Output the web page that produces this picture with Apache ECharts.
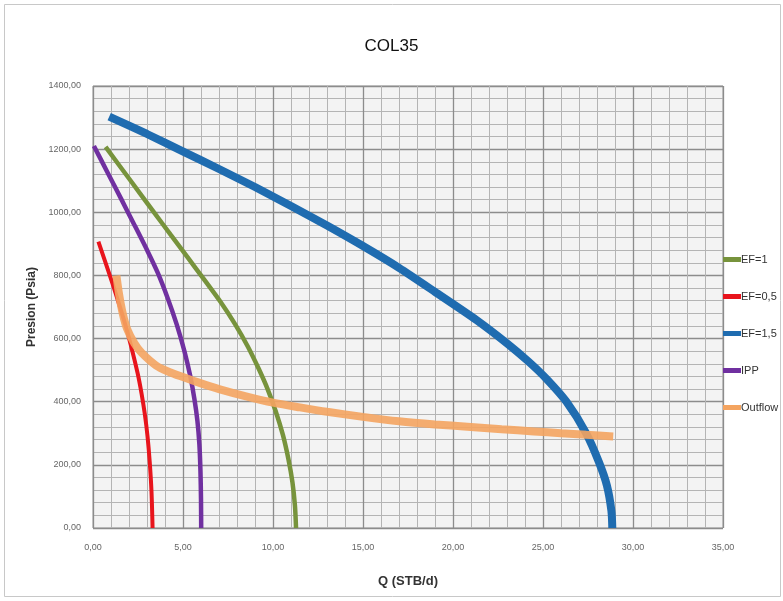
<!DOCTYPE html>
<html>
<head>
<meta charset="utf-8">
<script src="https://cdn.jsdelivr.net/npm/echarts@6/dist/echarts.min.js"></script>
<style>
  html, body { margin: 0; padding: 0; background: #fff; }
  #chart { width: 783px; height: 601px; }
</style>
</head>
<body>
<div id="chart"></div>
<script>
  // valores (Q en STB/d, P en psia)
  var seriesNames = ['EF=1', 'EF=0,5', 'EF=1,5', 'IPP', 'Outflow']
  var seriesColors = ['#77933c', '#e8141c', '#1f6cb0', '#7030a0', '#f4a460']

  var qEf1 = [0.7, 2.0, 3.4, 4.3, 5.26, 6.2, 7.1, 7.9, 8.6, 9.2, 9.7, 10.15, 10.55, 10.85, 11.08, 11.22, 11.28]
  var pEf1 = [1207, 1107, 999, 930, 857, 785, 715, 645, 575, 505, 440, 370, 295, 220, 145, 70, 0]

  var qEf05 = [0.3, 0.7, 1.09, 1.4, 1.74, 2.1, 2.48, 2.7, 2.88, 3.03, 3.15, 3.25, 3.31]
  var pEf05 = [907, 840, 773, 718, 655, 580, 490, 425, 360, 290, 210, 115, 0]

  var qEf15 = [0.9, 3.0, 5.1, 7.0, 9.0, 11.0, 13.0, 15.0, 17.0, 19.0, 21.3, 23.0, 24.2, 25.2, 26.3, 27.4, 28.1, 28.55, 28.8, 28.85]
  var pEf15 = [1303, 1248, 1190, 1137, 1080, 1020, 958, 893, 824, 748, 659, 585, 527, 472, 400, 300, 210, 135, 55, 0]

  var qIpp = [0.05, 0.8, 1.55, 2.3, 3.04, 3.6, 4.15, 4.65, 5.08, 5.4, 5.63, 5.8, 5.91, 5.97, 6.0, 6.01]
  var pIpp = [1210, 1127, 1044, 960, 876, 808, 728, 645, 560, 482, 410, 340, 265, 180, 90, 0]

  var qOut = [1.3, 1.45, 1.65, 1.9, 2.3, 2.7, 3.5, 4.2, 5.0, 6.0, 7.0, 8.5, 10.0, 11.5, 13.0, 15.0, 17.0, 19.0, 20.8, 22.7, 24.5, 26.0, 27.4, 28.9]
  var pOut = [800, 740, 680, 630, 585, 555, 515, 495, 478, 458, 440, 417, 397, 382, 368, 352, 338, 328, 321, 313, 306, 300, 295, 290]

  var lineWidths = [4.5, 4, 8, 4.5, 8]

  function pairs(q, p) {
    return q.map(function(v, i) { return [v, p[i]] })
  }

  var allData = [
    pairs(qEf1, pEf1),
    pairs(qEf05, pEf05),
    pairs(qEf15, pEf15),
    pairs(qIpp, pIpp),
    pairs(qOut, pOut)
  ]

  var fmt = function(v) { return v.toFixed(2).replace('.', ',') }
  var font = "'Liberation Sans Narrow', 'Liberation Sans', sans-serif"

  var myChart = echarts.init(document.getElementById('chart'))
  var option = {
    backgroundColor: '#fff',
    animation: false,
    graphic: [{
      type: 'rect',
      shape: { x: 4.5, y: 4.5, width: 776, height: 592 },
      style: { fill: 'none', stroke: '#c8c8c8', lineWidth: 1 },
      silent: true
    }],
    title: {
      text: 'COL35',
      left: 'center',
      top: 33,
      textStyle: { fontFamily: font, fontSize: 17, fontWeight: 'normal', color: '#111' }
    },
    legend: {
      orient: 'vertical',
      left: 718,
      top: 249,
      itemGap: 26,
      itemWidth: 18,
      itemHeight: 5,
      icon: 'rect',
      data: seriesNames,
      textStyle: { fontFamily: font, fontSize: 11, color: '#333', padding: [0, 0, 0, -5] }
    },
    grid: {
      left: 93,
      right: 60,
      top: 86,
      bottom: 73,
      show: true,
      backgroundColor: '#f3f3f3',
      borderColor: '#9a9a9a',
      borderWidth: 1
    },
    xAxis: {
      type: 'value',
      min: 0,
      max: 35,
      interval: 5,
      name: 'Q (STB/d)',
      nameLocation: 'middle',
      nameGap: 47,
      nameTextStyle: { fontFamily: font, fontSize: 13, fontWeight: 'bold', color: '#333' },
      axisLine: { show: false },
      axisTick: { show: false },
      axisLabel: { formatter: fmt, fontFamily: font, fontSize: 9, color: '#666', margin: 15 },
      splitLine: { lineStyle: { color: '#8c8c8c', width: 1.3 } },
      minorTick: { show: false, splitNumber: 5 },
      minorSplitLine: { show: true, lineStyle: { color: '#b4b4b4', width: 1 } }
    },
    yAxis: {
      type: 'value',
      min: 0,
      max: 1400,
      interval: 200,
      name: 'Presion (Psia)',
      nameLocation: 'middle',
      nameGap: 52,
      nameTextStyle: { fontFamily: font, fontSize: 12, fontWeight: 'bold', color: '#333' },
      axisLine: { show: false },
      axisTick: { show: false },
      axisLabel: { formatter: fmt, fontFamily: font, fontSize: 9, color: '#666', margin: 12 },
      splitLine: { lineStyle: { color: '#8c8c8c', width: 1.3 } },
      minorTick: { show: false, splitNumber: 5 },
      minorSplitLine: { show: true, lineStyle: { color: '#b4b4b4', width: 1 } }
    },
    series: seriesNames.map(function(name, i) {
      return {
        name: name,
        type: 'line',
        smooth: 0.25,
        showSymbol: false,
        data: allData[i],
        color: seriesColors[i],
        lineStyle: { width: lineWidths[i], color: seriesColors[i], opacity: i === 4 ? 0.9 : 1 },
        z: i === 4 ? 5 : 3
      }
    })
  }
  myChart.setOption(option)
</script>
</body>
</html>
